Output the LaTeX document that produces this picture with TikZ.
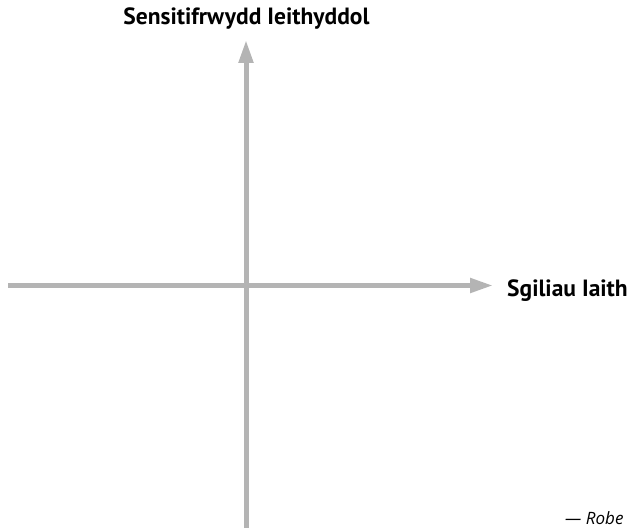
\documentclass[tikz,border=0pt]{standalone}
\usepackage{fontspec}
\setmainfont{PT Sans}
\newfontfamily\quotefont{Open Sans}
\usetikzlibrary{arrows.meta, positioning}
\definecolor{axisgray}{RGB}{180,180,180}

\begin{document}
\begin{tikzpicture} [
    x=1pt, y=1pt,
    axis/.style={axisgray, line width=5pt, -{Triangle[length=23pt, width=14pt]}},
    axislabel/.style={font=\bfseries\fontsize{23.5}{28}\selectfont, inner sep=0pt},
    quote/.style={font=\quotefont\itshape\fontsize{17}{20}\selectfont, inner sep=0pt}
]
\useasboundingbox (0,0) rectangle (628,528);

% Axis end points
\coordinate (x_start) at (8,242.5);
\coordinate (x_end) at (493,242.5);
\coordinate (y_start) at (246,0);
\coordinate (y_end) at (246,488);

% Labels
\node[axislabel, anchor=base] (y_label) at (246.5,503) {Sensitifrwydd Ieithyddol};
\node[axislabel, anchor=base west] (x_label) at (507,232) {Sgiliau Iaith};
\node[quote, anchor=base west] (source) at (565,4) {— Robe};

% Axes
\draw[axis] (x_start) -- (x_end);
\draw[axis] (y_start) -- (y_end);

\end{tikzpicture}
\end{document}
